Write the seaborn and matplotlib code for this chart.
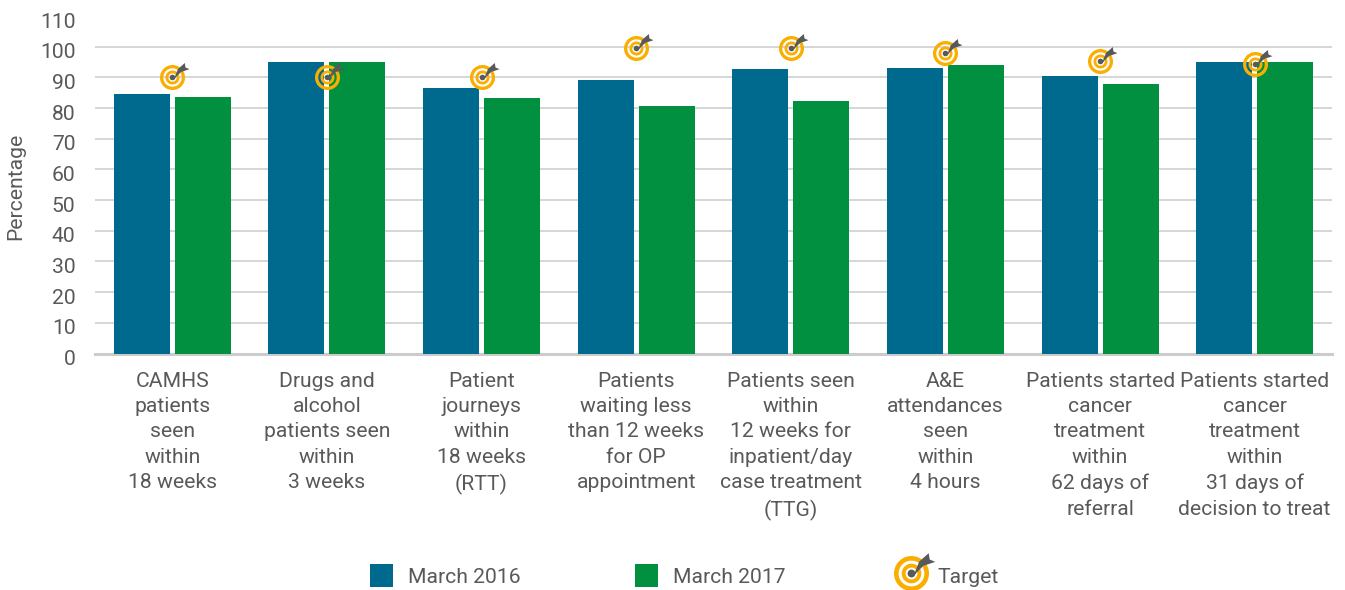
import numpy as np
import pandas as pd
import seaborn as sns
import matplotlib
matplotlib.use("Agg")
import matplotlib.pyplot as plt
from matplotlib.path import Path
from matplotlib.patches import Patch
from matplotlib.lines import Line2D
from matplotlib.legend_handler import HandlerTuple
from matplotlib.transforms import ScaledTranslation

# Data
categories = [
    "CAMHS\npatients\nseen\nwithin\n18 weeks",
    "Drugs and\nalcohol\npatients seen\nwithin\n3 weeks",
    "Patient\njourneys\nwithin\n18 weeks\n(RTT)",
    "Patients\nwaiting less\nthan 12 weeks\nfor OP\nappointment",
    "Patients seen\nwithin\n12 weeks for\ninpatient/day\ncase treatment\n(TTG)",
    "A&E\nattendances\nseen\nwithin\n4 hours",
    "Patients started\ncancer\ntreatment\nwithin\n62 days of\nreferral",
    "Patients started\ncancer\ntreatment\nwithin\n31 days of\ndecision to treat",
]
march_2016 = [84.5, 95, 86.5, 89, 92.7, 93, 90.4, 95]
march_2017 = [83.5, 95, 83.2, 80.6, 82.2, 94, 88, 95]
target = [90, 90, 90, 99.5, 99.5, 97.8, 95.3, 94.4]
y_ticks = list(range(0, 111, 10))

BLUE = "#006A8E"
GREEN = "#00903F"
ORANGE = "#F9AE00"
DART = "#58595B"
TEXT = "#58595B"
GRID = "#CCCCCC"
PX = 0.72  # points per pixel at dpi 100
FS = 15.2

plt.rcParams["font.family"] = ["Roboto", "DejaVu Sans"]


def circle(r, ccw=True, n=72):
    t = np.linspace(0, 2 * np.pi, n)
    if not ccw:
        t = t[::-1]
    return np.column_stack([r * np.cos(t), r * np.sin(t)])


def rings_marker():
    # outer and inner ring with real holes, the bars show through
    parts = [circle(12.5), circle(9.2, False), circle(7), circle(4.2, False)]
    return Path.make_compound_path(*[Path(p, closed=True) for p in parts])


def dart_marker():
    # centre dot, shaft and flights, the far tip sets the marker extent (17 px)
    body = [
        (1.5, -1.5), (8.5, 5.5), (17, 8.3), (13, 10), (12.3, 14.5), (5.5, 8.5), (-1.5, 1.5),
    ]
    parts = [circle(2.8), np.array(body)]
    return Path.make_compound_path(*[Path(p, closed=True) for p in parts])


rings = rings_marker()
dart = dart_marker()
rings_d = 25 * PX
dart_d = 34 * PX

df = pd.DataFrame({
    "category": categories * 2,
    "value": march_2016 + march_2017,
    "period": ["March 2016"] * 8 + ["March 2017"] * 8,
})
target_df = pd.DataFrame({"category": categories, "target": target})

fig = plt.figure(figsize=(13.45, 5.9), dpi=100)
ax = fig.add_axes([95 / 1345, 1 - 353.5 / 590, (1332 - 95) / 1345, (353.5 - 16) / 590])

sns.barplot(
    data=df, x="category", y="value", hue="period", ax=ax,
    palette=[BLUE, GREEN], width=0.789, gap=0.082, saturation=1,
    dodge=True, legend=False, zorder=3,
)
sns.scatterplot(data=target_df, x="category", y="target", ax=ax, marker=rings,
                s=rings_d ** 2, color=ORANGE, linewidth=0, zorder=5, legend=False)
sns.scatterplot(data=target_df, x="category", y="target", ax=ax, marker=dart,
                s=dart_d ** 2, color=DART, linewidth=0, zorder=6, legend=False)

ax.set_xlim(-0.5, 7.5)
ax.set_ylim(0, 110)
ax.set_yticks(y_ticks)
ax.set_xlabel("")
ax.set_ylabel("Percentage", fontsize=FS, color=TEXT)
ax.yaxis.set_label_coords(25 / 1345, 1 - 186 / 590, transform=fig.transFigure)

ax.grid(axis="y", color=GRID, lw=1.1, zorder=0)
ax.grid(axis="x", visible=False)
ax.set_axisbelow(True)
ax.yaxis.get_gridlines()[-1].set_visible(False)
ax.yaxis.get_gridlines()[0].set_visible(False)
for side in ["top", "right", "left"]:
    ax.spines[side].set_visible(False)
ax.spines["bottom"].set_color(GRID)
ax.spines["bottom"].set_linewidth(2.2)

ax.tick_params(axis="y", length=0, pad=14, labelsize=FS, labelcolor=TEXT)
ax.tick_params(axis="x", length=0, pad=13, labelsize=FS, labelcolor=TEXT)
# y labels sit a few px under their gridlines in the reference
shift = ScaledTranslation(0, -4 / 100, fig.dpi_scale_trans)
for lab in ax.get_yticklabels():
    lab.set_transform(lab.get_transform() + shift)
for lab in ax.get_xticklabels():
    lab.set_linespacing(1.43)

handles = [
    Patch(color=BLUE, lw=0),
    Patch(color=GREEN, lw=0),
    (
        Line2D([], [], ls="none", marker=rings, ms=35 * PX, mfc=ORANGE, mew=0),
        Line2D([], [], ls="none", marker=dart, ms=47.6 * PX, mfc=DART, mew=0),
    ),
]
labels = ["March 2016", "March 2017", "Target"]
leg = fig.legend(
    handles, labels, loc="lower left", bbox_to_anchor=(370 / 1345, 1 - 587 / 590),
    ncol=3, frameon=False, fontsize=FS, labelcolor=TEXT, numpoints=1,
    handlelength=23 * PX / FS, handleheight=1.3, handletextpad=15 * PX / FS,
    columnspacing=5.4, borderpad=0, borderaxespad=0,
    handler_map={tuple: HandlerTuple(ndivide=1, pad=0)},
)

fig.savefig("out.png", dpi=100)
